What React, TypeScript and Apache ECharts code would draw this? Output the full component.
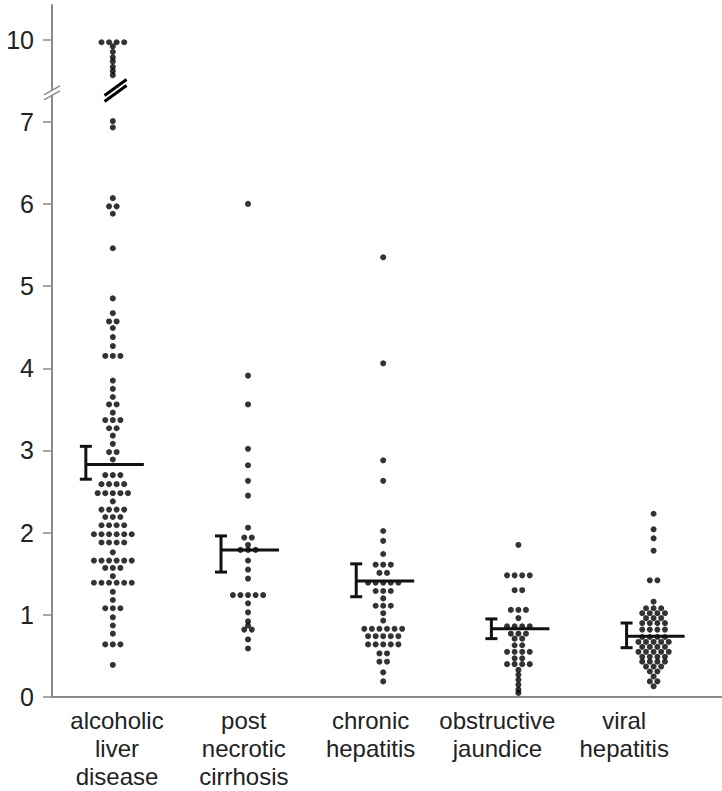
import React, { useEffect, useRef } from 'react';
import * as echarts from 'echarts';

const categories = [
  'alcoholic\nliver\ndisease',
  'post\nnecrotic\ncirrhosis',
  'chronic\nhepatitis',
  'obstructive\njaundice',
  'viral\nhepatitis',
];

const alcoholic = [
  9.9, 9.9, 9.9, 9.9, 9.75, 9.55, 9.35, 9.2, 9.0, 8.85, 8.7,
  7.02, 6.93, 6.07, 5.97, 5.97, 5.88, 5.46, 4.85, 4.67, 4.57, 4.57, 4.49, 4.38, 4.27,
  4.15, 4.15, 4.15, 3.85, 3.75, 3.65, 3.56, 3.56, 3.46, 3.37, 3.37, 3.37, 3.27, 3.27,
  3.18, 3.08, 2.98, 2.98, 2.89, 2.7, 2.7, 2.7, 2.59, 2.59, 2.59, 2.59,
  2.48, 2.48, 2.48, 2.48, 2.48, 2.38, 2.28, 2.28, 2.28, 2.28, 2.19, 2.19, 2.19,
  2.09, 2.09, 2.09, 2.09, 1.98, 1.98, 1.98, 1.98, 1.98, 1.98, 1.88, 1.88, 1.88, 1.88,
  1.76, 1.66, 1.66, 1.66, 1.66, 1.66, 1.66, 1.57, 1.57, 1.57, 1.47,
  1.39, 1.39, 1.39, 1.39, 1.39, 1.39, 1.28, 1.18, 1.08, 1.08, 1.08,
  0.97, 0.87, 0.77, 0.64, 0.64, 0.64, 0.39,
];
const postNecrotic = [
  6.0, 3.91, 3.56, 3.02, 2.82, 2.63, 2.45, 2.06, 1.94, 1.94, 1.85, 1.79, 1.79, 1.79,
  1.66, 1.55, 1.44, 1.24, 1.24, 1.24, 1.24, 1.24, 1.14, 1.03, 0.92, 0.87, 0.82, 0.82,
  0.7, 0.59,
];
const chronic = [
  5.35, 4.06, 2.88, 2.63, 2.02, 1.9, 1.74, 1.61, 1.61, 1.61, 1.51, 1.51,
  1.39, 1.39, 1.39, 1.39, 1.39, 1.29, 1.29, 1.29, 1.2, 1.11, 1.11, 1.11, 1.02, 0.93,
  0.83, 0.83, 0.83, 0.83, 0.83, 0.83, 0.74, 0.74, 0.74, 0.74, 0.74,
  0.64, 0.64, 0.64, 0.64, 0.64, 0.53, 0.53, 0.43, 0.43, 0.3, 0.19,
];
const obstructive = [
  1.85, 1.48, 1.48, 1.48, 1.48, 1.3, 1.3, 1.06, 1.06, 1.06, 0.96,
  0.86, 0.86, 0.86, 0.86, 0.77, 0.77, 0.77, 0.71, 0.71, 0.63, 0.63,
  0.55, 0.55, 0.55, 0.55, 0.47, 0.47, 0.4, 0.4, 0.4, 0.4,
  0.33, 0.27, 0.21, 0.15, 0.09, 0.05,
];
const viral = [
  2.23, 2.04, 1.93, 1.78, 1.42, 1.42, 1.16, 1.08, 1.08, 1.08,
  1.02, 1.02, 1.02, 1.02, 0.96, 0.96, 0.96, 0.9, 0.9, 0.9, 0.9,
  0.82, 0.82, 0.82, 0.82, 0.73, 0.73, 0.73, 0.73, 0.67, 0.67, 0.67, 0.67, 0.67,
  0.61, 0.61, 0.61, 0.61, 0.55, 0.55, 0.55, 0.55, 0.55, 0.49, 0.49, 0.49, 0.49,
  0.43, 0.43, 0.43, 0.43, 0.37, 0.37, 0.37, 0.31, 0.31, 0.25, 0.19, 0.19, 0.13,
];
const groups = [alcoholic, postNecrotic, chronic, obstructive, viral];

const means = [2.83, 1.79, 1.41, 0.83, 0.74];
const semLow = [2.65, 1.52, 1.22, 0.71, 0.6];
const semHigh = [3.05, 1.96, 1.62, 0.95, 0.9];

const yTickValues = [0, 1, 2, 3, 4, 5, 6, 7, 10];
const BREAK_AT = 7;
const BREAK_RATIO = 3;

const toDisplay = (v: number) => (v <= BREAK_AT ? v : BREAK_AT + (v - BREAK_AT) / BREAK_RATIO);
const fromDisplay = (d: number) => (d <= BREAK_AT ? d : BREAK_AT + (d - BREAK_AT) * BREAK_RATIO);

const DX = 0.056;

function swarm(values: number[], gi: number): number[][] {
  const counts = new Map<number, number>();
  values.forEach((v) => counts.set(v, (counts.get(v) || 0) + 1));
  const out: number[][] = [];
  counts.forEach((n, v) => {
    for (let j = 0; j < n; j++) {
      out.push([gi + (j - (n - 1) / 2) * DX, toDisplay(v)]);
    }
  });
  return out;
}

const FONT = "'Liberation Sans', Arial, sans-serif";

export default function App() {
  const ref = useRef<HTMLDivElement>(null);
  useEffect(() => {
    if (!ref.current) return;
    const chart = echarts.init(ref.current, undefined, { renderer: 'svg' });
    const option: any = {
      animation: false,
      backgroundColor: '#fff',
      grid: [
        { left: 52, right: 0, top: 5, bottom: 94 },
        { left: 53.6, width: 634, top: 5, bottom: 94 },
      ],
      xAxis: [
        {
          type: 'value',
          gridIndex: 0,
          min: -0.45,
          max: 4.506,
          axisLine: { show: true, onZero: false, lineStyle: { color: '#8a8a8a', width: 2 } },
          axisTick: { show: false },
          axisLabel: { show: false },
          splitLine: { show: false },
        },
        {
          type: 'category',
          gridIndex: 1,
          data: categories,
          axisLine: { show: false },
          axisTick: { show: false },
          axisLabel: {
            interval: 0,
            margin: 9,
            fontSize: 24,
            lineHeight: 28,
            color: '#222',
            fontFamily: FONT,
          },
        },
      ],
      yAxis: [
        {
          type: 'value',
          gridIndex: 0,
          min: 0,
          max: 8.42,
          interval: 1,
          axisLine: { show: true, onZero: false, lineStyle: { color: '#8a8a8a', width: 2 } },
          axisTick: {
            show: true,
            length: 9,
            lineStyle: { color: '#8a8a8a', width: 1.5 },
            customValues: yTickValues.map(toDisplay),
          },
          axisLabel: {
            margin: 18,
            fontSize: 25,
            color: '#222',
            fontFamily: FONT,
            customValues: yTickValues.map(toDisplay),
            formatter: (d: number) => String(Math.round(fromDisplay(d))),
          },
          splitLine: { show: false },
        },
        { type: 'value', gridIndex: 1, min: 0, max: 1, show: false },
      ],
      series: [
        ...groups.map((g, gi) => ({
          type: 'scatter',
          name: categories[gi],
          xAxisIndex: 0,
          yAxisIndex: 0,
          symbol: 'circle',
          symbolSize: 6,
          itemStyle: { color: '#000' },
          data: swarm(g, gi),
          z: 2,
        })),
        {
          type: 'custom',
          xAxisIndex: 0,
          yAxisIndex: 0,
          z: 3,
          clip: false,
          encode: { x: 0, y: [1, 2, 3] },
          data: means.map((m, i) => [i, m, semLow[i], semHigh[i]]),
          renderItem: (params: any, api: any) => {
            const i = api.value(0);
            const c = api.coord([i, api.value(1)]);
            const lo = api.coord([i, api.value(2)]);
            const hi = api.coord([i, api.value(3)]);
            const ex = c[0] - 27;
            const me = c[0] + 31;
            const st = { stroke: '#111', lineWidth: 3 };
            return {
              type: 'group',
              children: [
                { type: 'line', shape: { x1: ex, y1: hi[1], x2: ex, y2: lo[1] }, style: st },
                { type: 'line', shape: { x1: ex - 6, y1: hi[1], x2: ex + 6, y2: hi[1] }, style: st },
                { type: 'line', shape: { x1: ex - 6, y1: lo[1], x2: ex + 6, y2: lo[1] }, style: st },
                { type: 'line', shape: { x1: ex, y1: c[1], x2: me, y2: c[1] }, style: st },
              ],
            };
          },
        },
      ],
    };
    chart.setOption(option);

    // break marks positioned through the axes
    const axisPt = chart.convertToPixel({ gridIndex: 0 }, [-0.45, 7.35]) as number[];
    const colPt = chart.convertToPixel({ gridIndex: 0 }, [0.02, 7.38]) as number[];
    const ax = axisPt[0];
    const ay = axisPt[1];
    const cx = colPt[0];
    const cy = colPt[1];
    chart.setOption({
      graphic: [
        { type: 'rect', shape: { x: ax - 3, y: ay - 3, width: 6, height: 5 }, style: { fill: '#fff' }, z: 10 },
        { type: 'line', shape: { x1: ax - 8, y1: ay + 2, x2: ax + 8, y2: ay - 7 }, style: { stroke: '#8a8a8a', lineWidth: 1.5 }, z: 11 },
        { type: 'line', shape: { x1: ax - 8, y1: ay + 7, x2: ax + 8, y2: ay - 2 }, style: { stroke: '#8a8a8a', lineWidth: 1.5 }, z: 11 },
        { type: 'line', shape: { x1: cx - 11, y1: cy + 5, x2: cx + 11, y2: cy - 11 }, style: { stroke: '#000', lineWidth: 3 }, z: 11 },
        { type: 'line', shape: { x1: cx - 11, y1: cy + 11, x2: cx + 11, y2: cy - 5 }, style: { stroke: '#000', lineWidth: 3 }, z: 11 },
      ],
    });

    return () => chart.dispose();
  }, []);
  return (
    <div
      ref={ref}
      style={{ position: 'fixed', left: 0, top: 0, width: 722, height: 791, background: '#fff' }}
    />
  );
}
